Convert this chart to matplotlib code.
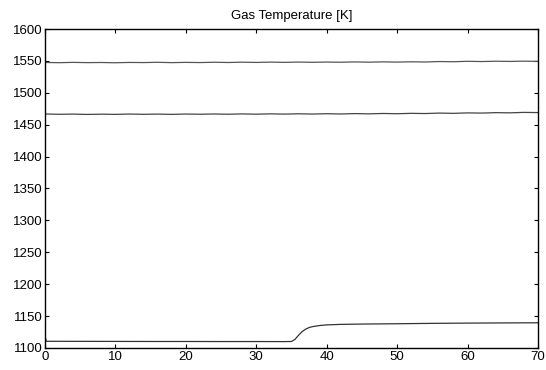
import numpy as np
import matplotlib
matplotlib.use("Agg")
import matplotlib.pyplot as plt

# ---- data ----
t_flat = np.arange(0, 71, 2)
T_upper = [1547.6, 1547.2, 1547.7, 1547.3, 1547.5, 1547.1, 1547.6, 1547.4, 1547.8,
           1547.3, 1547.7, 1547.4, 1547.9, 1547.5, 1548.0, 1547.6, 1548.1, 1547.7,
           1548.2, 1547.8, 1548.2, 1547.9, 1548.4, 1548.0, 1548.5, 1548.1, 1548.6,
           1548.3, 1549.0, 1548.7, 1549.4, 1549.0, 1549.5, 1549.2, 1549.6, 1549.3]
T_middle = [1466.8, 1466.3, 1466.6, 1466.1, 1466.5, 1466.2, 1466.7, 1466.3, 1466.6,
            1466.2, 1466.7, 1466.4, 1466.8, 1466.4, 1466.9, 1466.5, 1467.0, 1466.6,
            1467.1, 1466.7, 1467.2, 1466.8, 1467.4, 1467.0, 1467.6, 1467.2, 1467.8,
            1467.5, 1468.2, 1467.8, 1468.5, 1468.2, 1468.9, 1468.6, 1469.3, 1469.0]

t_lower = [0, 0.2, 5, 10, 15, 20, 25, 30, 34, 35, 35.5, 36, 36.5, 37, 37.5, 38,
           39, 40, 42, 45, 50, 55, 60, 65, 70]
T_lower = [1118, 1110.5, 1110.4, 1110.3, 1110.2, 1110.2, 1110.1, 1110.1, 1110.0,
           1110.2, 1113.5, 1120.0, 1125.5, 1129.5, 1132.0, 1133.5, 1135.2, 1136.2,
           1137.0, 1137.5, 1138.0, 1138.6, 1139.0, 1139.3, 1139.5]

x_ticks = [0, 10, 20, 30, 40, 50, 60, 70]
y_ticks = [1100, 1150, 1200, 1250, 1300, 1350, 1400, 1450, 1500, 1550, 1600]

plt.rcParams["font.family"] = ["Liberation Sans", "DejaVu Sans"]

fig = plt.figure(figsize=(5.46, 3.70), dpi=100)
ax = fig.add_axes([0.0824, 0.0595, 0.9029, 0.8621])

ax.plot(t_flat, T_upper, color="#555555", lw=0.9)
ax.plot(t_flat, T_middle, color="#444444", lw=0.9)
ax.plot(t_lower, T_lower, color="#333333", lw=0.9)

ax.set_xlim(0, 70)
ax.set_ylim(1100, 1600)
ax.set_xticks(x_ticks)
ax.set_yticks(y_ticks)
ax.tick_params(direction="in", top=True, right=True, length=3, width=0.8,
               labelsize=9.5, pad=2, colors="black")
for s in ax.spines.values():
    s.set_linewidth(1.0)

ax.set_title("Gas Temperature [K]", fontsize=9.5, pad=7)

fig.savefig("out.png", dpi=100)
